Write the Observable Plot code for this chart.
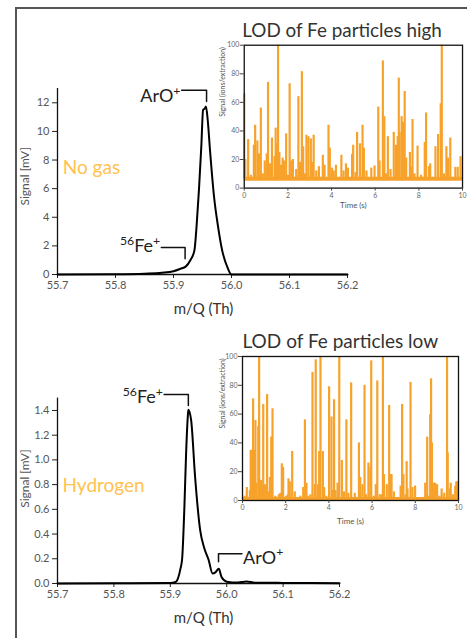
<!DOCTYPE html>
<html>
<head>
<meta charset="utf-8">
<script src="https://cdn.jsdelivr.net/npm/d3@7"></script>
<script src="https://cdn.jsdelivr.net/npm/@observablehq/plot@0.6"></script>
<style>
  html, body { margin: 0; padding: 0; background: #fff; }
  body { width: 467px; height: 638px; position: relative; overflow: hidden; font-family: Lato, sans-serif; }
  #border { position: absolute; left: 15px; top: 7px; width: 460px; height: 640px; border-left: 2px solid #555; border-top: 2px solid #555; }
  .chart { position: absolute; }
</style>
</head>
<body>
<div id="border"></div>
<div id="c1" class="chart" style="left:0px;top:0px"></div>
<div id="c2" class="chart" style="left:210px;top:10px"></div>
<div id="c3" class="chart" style="left:0px;top:320px"></div>
<div id="c4" class="chart" style="left:208px;top:321px"></div>
<script>
// ---------- DATA ----------
const mzTicks = [55.7, 55.8, 55.9, 56.0, 56.1, 56.2];
const noGasTicks = [0, 2, 4, 6, 8, 10, 12];
const hydrogenTicks = [0, 0.2, 0.4, 0.6, 0.8, 1.0, 1.2, 1.4];
const timeTicks = [0, 2, 4, 6, 8, 10];
const countTicks = [0, 20, 40, 60, 80, 100];

// No gas spectrum (m/Q, signal mV)
const noGasMz     = [55.70, 55.80, 55.85, 55.88, 55.90, 55.912, 55.921, 55.929, 55.936, 55.940, 55.944, 55.948, 55.951, 55.954, 55.956, 55.959, 55.963, 55.970, 55.977, 55.984, 55.993, 56.000, 56.10, 56.20];
const noGasSignal = [0.00,  0.02,  0.06,  0.12,  0.23,  0.40,   0.55,   1.00,   1.67,   3.50,   6.00,   9.00,   11.50,  11.60,  11.75,  10.80,  8.65,   5.40,   3.30,   1.67,   0.50,   0.00,   0.00,  0.00];

// Hydrogen spectrum (m/Q, signal mV)
const h2Mz     = [55.70, 55.80, 55.90, 55.908, 55.912, 55.918, 55.921, 55.925, 55.928, 55.931, 55.932, 55.934, 55.937, 55.944, 55.953, 55.960, 55.968, 55.975, 55.980, 55.986, 55.991, 56.000, 56.020, 56.035, 56.050, 56.100, 56.150, 56.200];
const h2Signal = [0.000, 0.002, 0.005, 0.010,  0.025,  0.120,  0.200,  0.620,  1.050,  1.350,  1.405,  1.390,  1.320,  0.860,  0.430,  0.290,  0.190,  0.080,  0.090,  0.120,  0.050,  0.015,  0.008,  0.016,  0.007,  0.005,  0.004,  0.003];

// Particle time traces (time s, ions/extraction)
const highBaseline = 6.5;
const highTime   = [0.00,0.05,0.18,0.30,0.44,0.50,0.60,0.67,0.76,0.85,0.94,1.03,1.09,1.18,1.27,1.39,1.44,1.50,1.55,1.61,1.68,1.76,1.82,1.92,2.00,2.08,2.15,2.23,2.38,2.48,2.55,2.64,2.70,2.78,2.85,2.94,3.05,3.12,3.18,3.30,3.42,3.60,3.68,3.86,3.92,4.02,4.10,4.20,4.45,4.55,4.66,4.75,4.94,4.99,5.10,5.17,5.30,5.42,5.48,5.60,5.82,5.97,6.14,6.20,6.35,6.42,6.50,6.58,6.70,6.85,6.95,7.03,7.08,7.12,7.21,7.27,7.35,7.42,7.59,7.65,7.71,7.80,7.94,8.10,8.27,8.33,8.46,8.52,8.76,8.88,9.00,9.05,9.15,9.26,9.33,9.44,9.67,9.78,9.91];
const highSignal = [66,  20,  34,  9,   30,  44,  33,  24,  56,  10,  19,  24,  74,  17,  35,  22,  42,  31,  100, 25,  16,  21,  19,  38,  9,   73,  19,  20,  13,  64,  18,  81.5,29, 10,  37,  36,  34.5,18, 37,  12,  15,  23,  16,  44,  28,  14,  12,  16,  23,  12,  17,  14,  23.6,30, 11,  39,  31,  44,  28,  12,  14,  15.5,56.7,19, 89,  50,  10,  36,  13,  39,  30,  36,  77,  39,  50,  46,  67.6,21,  25,  15,  48,  10,  29.4,9,   32,  52.6,15,  17,  29,  37.5,59,  100, 10,  29,  21,  35,  14.5,14.5,22];

const lowBaseline = 1;
const lowTime   = [0.10,0.20,0.34,0.38,0.43,0.49,0.57,0.60,0.64,0.73,0.77,0.86,0.90,0.96,1.04,1.14,1.20,1.27,1.33,1.39,1.52,1.68,1.75,1.82,1.88,2.02,2.10,2.13,2.19,2.30,2.42,2.55,2.68,2.81,2.89,2.96,3.05,3.15,3.24,3.35,3.39,3.50,3.55,3.61,3.72,3.78,3.88,4.01,4.12,4.18,4.24,4.30,4.40,4.48,4.60,4.70,4.81,4.90,5.03,5.20,5.39,5.45,5.55,5.65,5.72,5.83,5.92,5.96,6.08,6.17,6.24,6.35,6.43,6.50,6.55,6.68,6.79,6.86,6.90,7.01,7.16,7.32,7.39,7.45,7.55,7.60,7.64,7.78,7.87,7.99,8.20,8.34,8.46,8.55,8.62,8.69,8.73,8.77,8.86,8.92,9.01,9.12,9.22,9.34,9.47,9.50,9.60,9.64,9.75,9.85,9.90,9.95];
const lowSignal = [3,   9,   7,   34.7,35,  70.6,35,  55.5,12,  51.4,100, 14,  10,  66.7,11,  73.6,6,   16,  44,  63.7,3,   4,   5,   25.5,23,  3,   4,   15,  13,  34,  6,   2,   3,   9,   56,  12,  3,   4,   89,  11,  97.7,11,  34,  100, 34,  9,   3,   79,  58,  7,   70,  7,   12,  100, 27.8,6,   56,  5,   81.7,5,   40,  16,  11,  80,  4,   26,  23,  97,  3,   11,  83,  4,   4,   100, 18,  11,  66,  18,  18,  6,   2,   10,  66.7,18,  4,   27,  8,   82,  9,   10,  2,   2,   12,  44,  3,   59.6,84.5,40,  12,  12,  11,  3,   8,   5,   100, 33,  8,   12,  4,   10,  13,  13];

// Annotations (data units)
const noGasLabels = [
  {label: "ArO{+}", x: 55.912, y: 12.45, anchor: "end"},
  {label: "{56}Fe{+}", x: 55.877, y: 1.95, anchor: "end"}
];
const noGasArO = [{x: 55.914, y: 12.88}, {x: 55.957, y: 12.88}, {x: 55.957, y: 12.1}];
const noGasFe  = [{x: 55.879, y: 1.88}, {x: 55.920, y: 1.88}, {x: 55.920, y: 1.1}];

const h2Labels = [
  {label: "{56}Fe{+}", x: 55.887, y: 1.505, anchor: "end"},
  {label: "ArO{+}", x: 56.029, y: 0.205, anchor: "start"}
];
const h2Fe  = [{x: 55.889, y: 1.53}, {x: 55.932, y: 1.53}, {x: 55.932, y: 1.44}];
const h2ArO = [{x: 56.027, y: 0.24}, {x: 55.9855, y: 0.24}, {x: 55.9855, y: 0.175}];

// ---------- BUILD ----------
const FONT = "Lato, 'Open Sans', sans-serif";
const ORANGE = "#f7a22b";
const GAS = "#ffc24f";
const noGas = noGasMz.map((mz, i) => ({mz, s: noGasSignal[i]}));
const h2 = h2Mz.map((mz, i) => ({mz, s: h2Signal[i]}));
const high = highTime.map((t, i) => ({t, v: highSignal[i]}));
const low = lowTime.map((t, i) => ({t, v: lowSignal[i]}));

function superscripts(svg) {
  svg.querySelectorAll("text").forEach(t => {
    const s = t.textContent;
    if (!s.includes("{")) return;
    t.textContent = "";
    const re = /\{([^}]*)\}|([^{]+)/g;
    let m, raised = false;
    while ((m = re.exec(s))) {
      const ts = document.createElementNS("http://www.w3.org/2000/svg", "tspan");
      if (m[1] !== undefined) {
        ts.textContent = m[1];
        ts.setAttribute("font-size", "0.68em");
        ts.setAttribute("dy", raised ? "0" : "-0.62em");
        raised = true;
      } else {
        ts.textContent = m[2];
        if (raised) { ts.setAttribute("dy", "0.42em"); }
        raised = false;
      }
      t.appendChild(ts);
    }
  });
  return svg;
}

function mainChart({data, yDomain, yTicks, yFmt, width, height, mt, mb, mr, labels, brackets, gas, gasY, ylabelDy, xlabelDx}) {
  return Plot.plot({
    width, height, marginLeft: 57, marginRight: mr, marginTop: mt, marginBottom: mb,
    style: {fontFamily: FONT, background: "transparent", overflow: "visible"},
    x: {domain: [55.7, 56.2]},
    y: {domain: yDomain},
    marks: [
      Plot.axisX({ticks: mzTicks, tickFormat: d3.format(".1f"), tickSize: 4, tickPadding: 3, fontSize: 11, fill: "#555", stroke: "#222", label: null}),
      Plot.axisY({ticks: yTicks, tickFormat: yFmt, tickSize: 5, tickPadding: 3, fontSize: 11, fill: "#555", stroke: "#222", label: null}),
      Plot.ruleX([55.7], {stroke: "#111", strokeWidth: 1.3}),
      Plot.ruleY([0], {stroke: "#111", strokeWidth: 1.3}),
      Plot.line(data, {x: "mz", y: "s", stroke: "#000", strokeWidth: 2, curve: "monotone-x"}),
      ...brackets.map(b => Plot.line(b, {x: "x", y: "y", stroke: "#111", strokeWidth: 1.5})),
      Plot.text(labels.filter(d => d.anchor === "end"), {x: "x", y: "y", text: "label", textAnchor: "end", lineAnchor: "middle", fontSize: 18, fill: "#222"}),
      Plot.text(labels.filter(d => d.anchor === "start"), {x: "x", y: "y", text: "label", textAnchor: "start", lineAnchor: "middle", fontSize: 18, fill: "#222"}),
      Plot.text([gas], {x: 55.709, y: gasY, textAnchor: "start", lineAnchor: "middle", fontSize: 19, fill: GAS}),
      Plot.text(["Signal [mV]"], {frameAnchor: "left", dx: -32, dy: ylabelDy, rotate: -90, lineAnchor: "middle", fontSize: 12, fill: "#555"}),
      Plot.text(["m/Q (Th)"], {frameAnchor: "bottom", dy: 35, dx: xlabelDx, lineAnchor: "middle", fontSize: 15, fill: "#333"})
    ]
  });
}

function inset({data, baseline, title, width, titleDx, timeDy, ylabDx}) {
  return Plot.plot({
    width, height: 209, marginLeft: 34, marginRight: 5, marginTop: 35, marginBottom: 30,
    style: {fontFamily: FONT, background: "transparent", overflow: "visible"},
    x: {domain: [0, 10]},
    y: {domain: [0, 100]},
    marks: [
      Plot.ruleY([baseline], {stroke: ORANGE, strokeWidth: 4}),
      Plot.ruleX(data, {x: "t", y1: baseline, y2: "v", stroke: ORANGE, strokeWidth: 2.2}),
      Plot.frame({stroke: "#111", strokeWidth: 1.3}),
      Plot.axisX({ticks: timeTicks, tickSize: 3, tickPadding: 2, fontSize: 7, fill: "#666", stroke: "#444", label: null}),
      Plot.axisY({ticks: countTicks, tickSize: 4, tickPadding: 1, fontSize: 7, fill: "#666", stroke: "#444", label: null}),
      Plot.text(["Time (s)"], {frameAnchor: "bottom", dy: timeDy, lineAnchor: "middle", fontSize: 8, fill: "#555"}),
      Plot.text(["Signal (ions/extraction)"], {frameAnchor: "left", dx: ylabDx, rotate: -90, lineAnchor: "middle", fontSize: 7, fill: "#555"}),
      Plot.text([title], {frameAnchor: "top-left", textAnchor: "start", lineAnchor: "middle", dx: titleDx, dy: -14.5, fontSize: 19, fill: "#333"})
    ]
  });
}

document.getElementById("c1").appendChild(superscripts(mainChart({
  data: noGas, yDomain: [0, 13], yTicks: noGasTicks, yFmt: d3.format("d"),
  width: 360, height: 319, mt: 88, mb: 45, mr: 13,
  labels: noGasLabels, brackets: [noGasArO, noGasFe], gas: "No gas", gasY: 7.47, ylabelDy: 24, xlabelDx: 1
})));
document.getElementById("c2").appendChild(inset({data: high, baseline: highBaseline, title: "LOD of Fe particles high", width: 259, titleDx: -2, timeDy: 17, ylabDx: -22}));
document.getElementById("c3").appendChild(superscripts(mainChart({
  data: h2, yDomain: [0, 1.5], yTicks: hydrogenTicks, yFmt: d3.format(".1f"),
  width: 352, height: 308, mt: 77.6, mb: 45, mr: 13,
  labels: h2Labels, brackets: [h2Fe, h2ArO], gas: "Hydrogen", gasY: 0.79, ylabelDy: 17, xlabelDx: 5
})));
document.getElementById("c4").appendChild(inset({data: low, baseline: lowBaseline, title: "LOD of Fe particles low", width: 255, titleDx: 0, timeDy: 21, ylabDx: -20}));
</script>
</body>
</html>
